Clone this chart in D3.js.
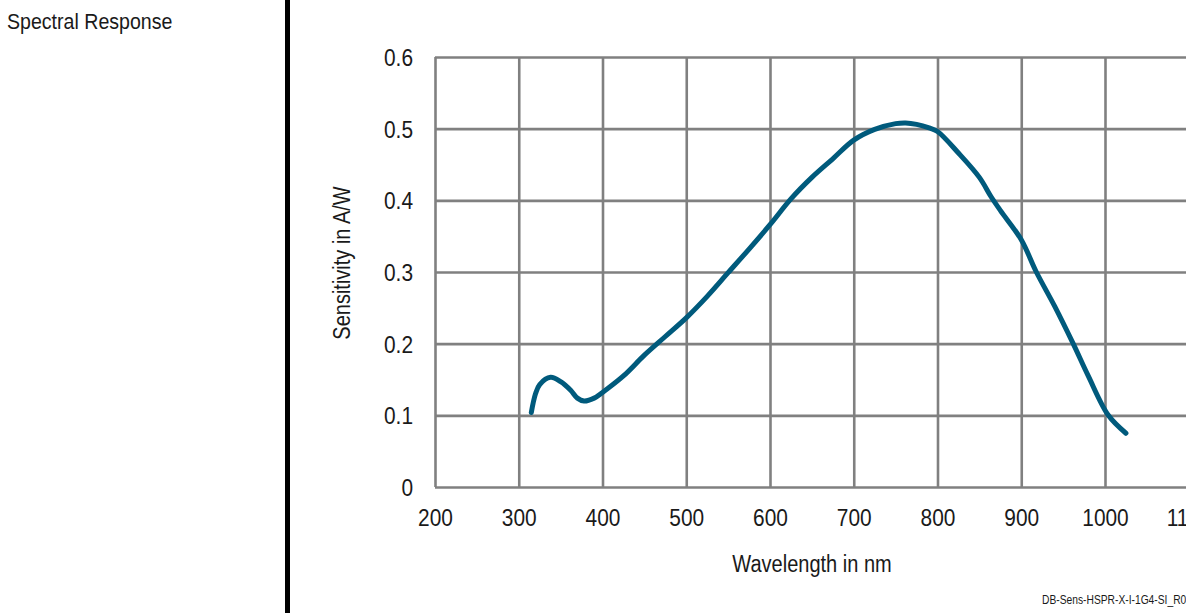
<!DOCTYPE html>
<html>
<head>
<meta charset="utf-8">
<script src="https://cdn.jsdelivr.net/npm/d3@7/dist/d3.min.js"></script>
<style>
  body { margin: 0; background: #fff; }
  text { font-family: "Liberation Sans", Arial, sans-serif; fill: #1a1a1a; }
</style>
</head>
<body>
<div class="chart"></div>
<script>

  //////////
  // Data //
  //////////

  var wavelength = [315, 320, 325, 338, 350, 362, 370, 378, 390, 400, 425, 450, 475, 500, 525, 550, 575,
                    600, 625, 650, 675, 700, 725, 750, 762, 775, 790, 800, 825, 850, 864, 875,
                    900, 918, 940, 962, 980, 1004, 1025];
  var sensitivity = [0.104, 0.130, 0.143, 0.153, 0.147, 0.135, 0.124, 0.120, 0.124, 0.132, 0.155, 0.184, 0.210,
                     0.236, 0.266, 0.299, 0.332, 0.366, 0.402, 0.432, 0.458, 0.484, 0.499, 0.507, 0.508,
                     0.506, 0.501, 0.496, 0.466, 0.432, 0.405, 0.386, 0.345, 0.300, 0.252, 0.200,
                     0.155, 0.100, 0.075];
  var xTicks = [200, 300, 400, 500, 600, 700, 800, 900, 1000, 1100];
  var yTicks = [0, 0.1, 0.2, 0.3, 0.4, 0.5, 0.6];

  ///////////
  // Setup //
  ///////////

  var svg = d3.select('.chart')
              .append('svg')
              .attr('width', 1186)
              .attr('height', 613);

  var x = d3.scaleLinear().domain([200, 1100]).range([435, 1188.75]);
  var y = d3.scaleLinear().domain([0, 0.6]).range([487, 57]);

  // title + divider
  svg.append('text')
     .attr('x', 7)
     .attr('y', 29)
     .style('font-size', '22.5px')
     .text('Spectral Response');

  svg.append('rect')
     .attr('x', 285)
     .attr('y', 0)
     .attr('width', 5)
     .attr('height', 613)
     .style('fill', '#000');

  //////////
  // Grid //
  //////////

  var xAxis = svg.append('g')
                 .attr('transform', 'translate(0,' + y(0) + ')')
                 .call(d3.axisBottom(x).tickValues(xTicks).tickSize(-(y(0) - y(0.6))).tickPadding(22).tickFormat(d3.format('d')));

  var yAxis = svg.append('g')
                 .attr('transform', 'translate(' + x(200) + ',0)')
                 .call(d3.axisLeft(y).tickValues(yTicks).tickSize(-(x(1100) - x(200))).tickPadding(22).tickFormat(function(d){ return d === 0 ? '0' : d3.format('.1f')(d); }));

  svg.selectAll('.domain').remove();
  svg.selectAll('.tick line')
     .style('stroke', '#808080')
     .style('stroke-width', 2.6);
  svg.selectAll('.tick text')
     .style('font-size', '24px')
     .style('fill', '#1a1a1a');
  yAxis.selectAll('.tick text').attr('dy', '0.35em');
  xAxis.selectAll('.tick text').attr('dy', '0.72em');

  // axis titles
  svg.append('text')
     .attr('transform', 'translate(350,263) rotate(-90)')
     .attr('text-anchor', 'middle')
     .style('font-size', '23px')
     .text('Sensitivity in A/W');

  svg.append('text')
     .attr('x', 812)
     .attr('y', 572)
     .attr('text-anchor', 'middle')
     .style('font-size', '23px')
     .text('Wavelength in nm');

  svg.append('text')
     .attr('class', 'docid')
     .attr('x', 1042)
     .attr('y', 604)
     .style('font-size', '13.5px')
     .text('DB-Sens-HSPR-X-I-1G4-SI_R01');

  // the original type is a condensed face - squeeze the glyphs a bit
  svg.selectAll('text').each(function(){
    var w = this.getComputedTextLength();
    var k = d3.select(this).classed('docid') ? 0.76 : 0.87;
    d3.select(this)
      .attr('textLength', w * k)
      .attr('lengthAdjust', 'spacingAndGlyphs');
  });

  ///////////
  // Curve //
  ///////////

  var line = d3.line()
               .x(function(d, i){ return x(wavelength[i]); })
               .y(function(d){ return y(d); })
               .curve(d3.curveCatmullRom.alpha(0.5));

  svg.append('path')
     .datum(sensitivity)
     .attr('d', line)
     .style('fill', 'none')
     .style('stroke', '#005a7c')
     .style('stroke-width', 5)
     .style('stroke-linecap', 'round')
     .style('stroke-linejoin', 'round');

</script>
</body>
</html>
